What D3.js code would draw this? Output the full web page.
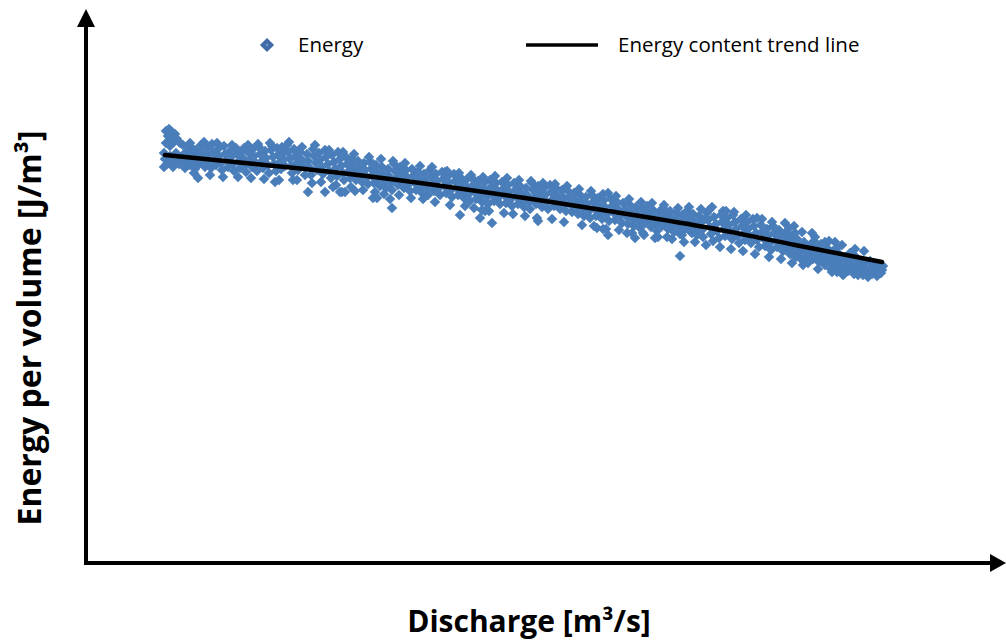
<!DOCTYPE html>
<html>
<head>
<meta charset="utf-8">
<script src="https://cdn.jsdelivr.net/npm/d3@7"></script>
<style>
  html, body { margin: 0; padding: 0; background: #fff; }
  svg { display: block; }
</style>
</head>
<body>
<svg id="chart" width="1006" height="642"></svg>
<script>
// ---- DATA (arbitrary units, no tick labels on the original) ----
const seriesNames = ["Energy", "Energy content trend line"];
const xTitle = "Discharge [m³/s]";
const yTitle = "Energy per volume [J/m³]";

// scatter: [discharge, energy per volume]
const energyPoints = [
 [80,432],[83,434],[86,431],[89,429],[82,427],[85,425],[91,424],[88,421],[94,420],[80,420],[97,418],[84,417],
 [78,410],[79,404],[81,399],[84,407],[86,402],[87,396],[90,410],[92,404],[93,399],[96,407],[98,401],[99,395],[78,396],
 [101,412],[102,405],[103,398],[105,416],[106,409],[107,401],[109,394],[110,413],[111,406],[113,399],[115,418],[116,410],[117,403],[119,396],[112,385],
 [121,415],[122,408],[123,401],[125,395],[126,419],[127,411],[129,404],[130,398],[132,414],[133,407],[135,400],[136,393],[138,417],[139,409],
 [141,403],[142,396],[144,412],[145,406],[147,399],[148,392],[150,415],[151,409],[153,402],[154,395],[156,412],[157,405],[159,398],[160,391],
 [162,418],[163,410],[164,403],[166,396],[167,414],[168,407],[170,400],[171,392],[173,416],[174,409],[176,402],[177,395],[179,412],[180,405],
 [182,398],[183,390],[184,420],[185,413],[187,406],[188,399],[190,392],[191,415],[192,408],[194,401],[195,394],[197,411],[198,404],[199,397],[189,381],
 [201,418],[202,411],[204,404],[205,397],[206,390],[208,414],[209,407],[211,400],[212,393],[214,411],[215,404],[217,397],[219,388],[211,383],
 [221,409],[222,402],[224,395],[225,388],[227,414],[228,407],[230,400],[231,393],[233,410],[234,403],[236,396],[237,389],[239,413],[240,406],
 [222,371],[239,371],[247,376],[256,371],
 [242,399],[243,392],[245,385],[246,408],[248,401],[249,394],[251,387],[252,411],[254,404],[255,397],[257,390],[258,383],[260,406],
 [254,371],[259,371],[269,372],
 [261,399],[263,392],[264,385],[266,404],[267,397],[269,390],[270,383],[272,402],[273,395],[275,388],[276,381],[278,400],[279,393],
 [287,365],[291,365],[287,399],
 [281,386],[282,379],[284,401],[285,394],[286,387],[288,380],[290,398],[291,391],[293,384],[294,377],[296,396],[297,389],[299,382],[300,375],
 [302,394],[303,387],[305,380],[306,373],[308,399],[309,392],[311,385],[312,378],[314,396],[315,389],[317,382],[318,375],[320,393],
 [304,364],[306,355],
 [321,386],[323,379],[324,372],[326,394],[327,387],[329,380],[330,373],[332,391],[333,384],[335,377],[336,370],[338,389],[339,382],
 [341,375],[342,368],[344,393],[345,386],[347,379],[348,372],[350,389],[351,382],[353,375],[354,368],[356,391],[357,384],[359,377],[360,370],
 [362,387],[363,380],[365,373],[366,366],[368,389],[369,382],[371,375],[372,368],[374,386],[375,379],[377,372],[378,365],[380,383],
 [374,348],[359,391],
 [381,376],[383,369],[384,362],[386,385],[387,378],[389,371],[390,364],[392,382],[393,375],[395,368],[396,361],[398,380],[399,373],
 [394,345],[396,353],[406,340],
 [401,366],[402,359],[404,383],[405,376],[407,369],[408,362],[410,380],[411,373],[413,366],[414,359],[416,381],[417,374],[419,367],[420,360],
 [422,378],[423,371],[425,364],[426,357],[428,380],[429,373],[431,366],[432,359],[434,377],[435,370],[437,363],[438,356],[440,375],
 [441,368],[443,361],[444,354],[446,380],[447,373],[449,366],[450,359],[452,377],[453,370],[455,363],[456,356],[458,375],[459,368],[452,342],
 [461,361],[462,354],[464,378],[465,371],[467,364],[468,357],[470,375],[471,368],[473,361],[474,354],[476,373],[477,366],[479,359],[480,352],
 [482,372],[483,365],[485,358],[486,351],[488,370],[489,363],[491,356],[492,349],[494,368],[495,361],[497,354],[498,347],[500,366],
 [501,359],[503,352],[504,345],[506,368],[507,361],[509,354],[510,347],[512,365],[513,358],[515,351],[516,344],[518,363],[519,356],
 [511,335],[517,334],[522,328],[522,370],
 [521,349],[523,342],[525,364],[526,357],[528,350],[529,343],[531,361],[532,354],[534,347],[536,340],[537,360],[539,353],
 [541,330],[549,325],
 [541,346],[542,339],[544,358],[545,351],[547,344],[548,337],[550,356],[551,349],[553,342],[554,335],[556,354],[557,347],[559,340],
 [557,330],[569,325],
 [561,357],[562,350],[564,343],[565,336],[567,353],[568,346],[570,339],[571,332],[573,351],[574,344],[576,337],[577,355],[579,348],
 [581,326],
 [581,341],[582,334],[584,352],[585,345],[587,338],[588,331],[590,350],[591,343],[593,336],[594,329],[596,348],[597,341],[599,334],
 [594,307],[596,328],[606,330],
 [601,352],[602,345],[604,338],[605,331],[607,349],[608,342],[610,335],[611,328],[613,347],[614,340],[616,333],[617,326],[619,344],
 [621,350],[622,343],[624,336],[625,329],[627,322],[628,346],[630,339],[631,332],[633,325],[635,348],[636,341],[638,334],[639,327],
 [623,353],[640,352],
 [641,345],[643,338],[644,331],[646,324],[647,348],[649,341],[650,334],[652,327],[653,320],[655,344],[656,337],[658,330],[659,323],
 [661,341],[662,334],[664,327],[665,320],[667,344],[668,337],[670,330],[671,323],[673,316],[675,338],[676,331],[678,324],[679,317],
 [676,344],
 [681,334],[682,327],[684,320],[685,313],[687,337],[688,330],[690,323],[691,316],[693,333],[694,326],[696,319],[697,312],[699,330],
 [699,340],[708,337],[709,330],
 [701,323],[702,316],[704,309],[705,327],[707,320],[708,313],[710,306],[711,324],[713,317],[714,310],[716,303],[718,321],[719,314],
 [726,330],
 [721,307],[722,300],[724,318],[725,311],[727,304],[728,322],[730,315],[731,308],[733,301],[735,319],[736,312],[738,305],[739,298],
 [739,321],[749,321],[751,315],
 [741,315],[742,308],[744,301],[745,294],[747,312],[748,305],[750,298],[751,291],[753,309],[754,302],[756,295],[757,288],[759,306],
 [761,299],[762,292],[764,310],[765,303],[767,296],[768,289],[770,306],[771,299],[773,292],[774,302],[776,295],[777,288],[779,300],
 [781,293],[782,286],[784,302],[785,295],[787,290],[788,298],[790,292],[791,287],[793,296],[794,290],[796,293],[797,297],
 // outer edges of the cloud
 [104,420],[118,421],[131,420],[146,418],[158,415],[172,419],[186,417],[196,416],
 [108,390],[124,388],[137,386],[152,386],[165,385],[178,384],[193,383],
 [203,421],[216,416],[229,418],[243,413],[257,411],[268,409],[283,406],[295,404],
 [207,383],[226,380],[235,381],[250,378],[265,376],[277,373],[289,371],[298,369],
 [307,402],[319,400],[334,397],[346,396],[361,392],[373,390],[385,388],[397,386],
 [313,368],[325,365],[337,364],[349,361],[364,358],[379,357],[388,355],[399,352],
 [409,387],[421,385],[433,383],[445,382],[457,380],[469,379],[481,377],[493,374],
 [403,352],[418,350],[427,349],[439,347],[451,345],[466,344],[478,341],[496,338],
 [505,372],[517,369],[530,367],[543,364],[555,361],[566,360],[578,358],[592,355],
 [508,337],[520,334],[533,333],[546,330],[558,328],[572,326],[586,324],[598,321],
 [603,356],[615,354],[626,356],[637,352],[648,351],[660,348],[671,345],[686,341],
 [609,321],[620,318],[634,316],[645,314],[657,312],[669,309],[683,306],[695,304],
 [703,335],[716,331],[729,326],[743,322],[756,318],[769,314],[778,312],
 [706,300],[717,298],[732,294],[746,291],[758,289],[772,288],[786,289],[795,290]
];

// trend line, read at a few positions along its length
const trendX = [79, 169, 259, 349, 439, 529, 619, 709, 796];
const trendY = [408, 399, 389.5, 378, 365, 351, 336, 318, 301];

// ---- DRAW ----
const svg = d3.select("#chart");
const x = d3.scaleLinear().domain([0, 920]).range([86, 1006]);
const y = d3.scaleLinear().domain([0, 555]).range([563, 8]);

const pointColor = "#4a7ebb";

// scatter diamonds (rotated squares)
const sym = d3.symbol().type(d3.symbolSquare).size(56);
svg.append("g")
  .selectAll("path")
  .data(energyPoints)
  .join("path")
  .attr("d", sym)
  .attr("fill", pointColor)
  .attr("transform", d => `translate(${x(d[0])},${y(d[1])}) rotate(45)`);

// trend line
const trendData = trendX.map((v, i) => [v, trendY[i]]);
svg.append("path")
  .datum(trendData)
  .attr("fill", "none")
  .attr("stroke", "#000")
  .attr("stroke-width", 4.5)
  .attr("stroke-linecap", "round")
  .attr("d", d3.line().x(d => x(d[0])).y(d => y(d[1])).curve(d3.curveNatural));

// axes with arrow heads
const ax = svg.append("g");
const x0 = x(0), y0 = y(0);
ax.append("line").attr("x1", x0).attr("y1", y0 + 2).attr("x2", x0).attr("y2", 24)
  .attr("stroke", "#000").attr("stroke-width", 4);
ax.append("path").attr("d", `M${x0},9 L${x0 - 9},27 L${x0 + 9},27 Z`).attr("fill", "#000");
ax.append("line").attr("x1", x0 - 2).attr("y1", y0).attr("x2", 992).attr("y2", y0)
  .attr("stroke", "#000").attr("stroke-width", 4);
ax.append("path").attr("d", `M1006,${y0} L990,${y0 - 9} L990,${y0 + 9} Z`).attr("fill", "#000");

// axis titles
const font = "'Open Sans', 'Noto Sans', sans-serif";
svg.append("text")
  .attr("x", 529).attr("y", 632)
  .attr("text-anchor", "middle")
  .attr("font-family", font).attr("font-weight", "bold").attr("font-size", 30)
  .attr("fill", "#000")
  .text(xTitle);
svg.append("text")
  .attr("transform", "translate(41,328) rotate(-90)")
  .attr("text-anchor", "middle")
  .attr("font-family", font).attr("font-weight", "bold").attr("font-size", 32)
  .attr("fill", "#000")
  .text(yTitle);

// legend
const lg = svg.append("g").attr("font-family", font).attr("font-size", 20.5).attr("fill", "#000");
lg.append("path").attr("d", d3.symbol().type(d3.symbolSquare).size(100))
  .attr("transform", "translate(267,45) rotate(45)").attr("fill", "#3f6aa6");
lg.append("path").attr("d", d3.symbol().type(d3.symbolSquare).size(6))
  .attr("transform", "translate(267,45) rotate(45)").attr("fill", "#6a93cc");
lg.append("text").attr("x", 298).attr("y", 52).text(seriesNames[0]);
lg.append("line").attr("x1", 526).attr("x2", 598).attr("y1", 45).attr("y2", 45)
  .attr("stroke", "#000").attr("stroke-width", 3.5);
lg.append("text").attr("x", 618).attr("y", 52).text(seriesNames[1]);
</script>
</body>
</html>
